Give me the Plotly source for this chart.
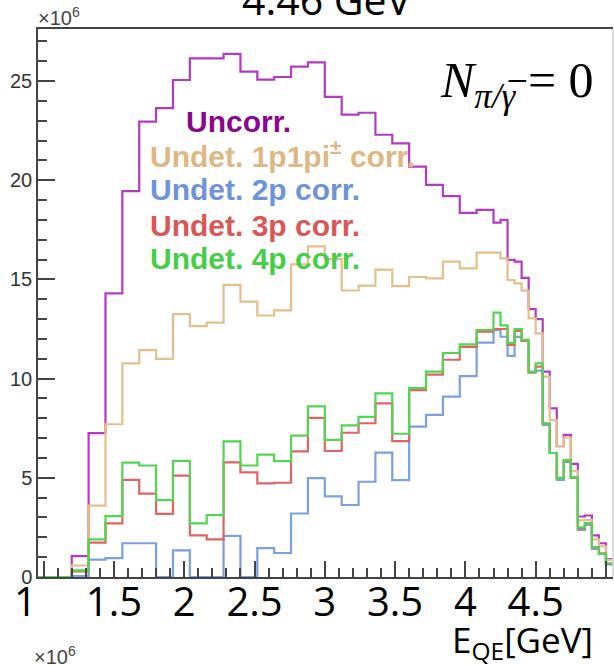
import plotly.graph_objects as go

# bin edges (GeV): 0.12 GeV bins up to 4.2, then 0.05 GeV bins
edges_wide = [round(0.96 + 0.12 * k, 2) for k in range(28)]
edges_narrow = [round(4.25 + 0.05 * k, 2) for k in range(17)]
edges = edges_wide + edges_narrow

uncorr = [0, 0, 1.05, 7.25, 14.3, 19.45, 22.95, 23.63, 25.05, 26.14, 26.14, 26.37, 25.47, 25.07,
          25.2, 25.72, 25.94, 24.2, 23.3, 23.4, 22.29, 21.86, 20.68, 19.76, 19.2, 18.35, 18.5,
          17.86, 18.0, 15.98, 15.9, 15.08, 13.5, 13.0, 10.35, 8.5, 6.6, 7.16, 5.7, 3.05, 3.1,
          2.1, 1.7, 0.9]
undet_1p1pi = [0, 0, 0.58, 3.6, 7.7, 10.77, 11.43, 10.99, 13.25, 12.64, 12.82, 14.72, 13.88, 13.18,
               13.44, 15.76, 16.66, 16.02, 14.44, 14.69, 15.49, 14.66, 15.12, 15.05, 15.9, 15.56,
               16.35, 16.35, 16.06, 14.97, 14.8, 14.43, 13.04, 12.28, 10.1, 7.91, 6.6, 7.03, 5.35,
               2.85, 2.87, 1.9, 1.55, 0.87]
undet_2p = [0, 0, 0.05, 0.88, 0.95, 1.7, 1.7, 0, 1.34, 0, 0, 2.07, 0, 1.46, 1.21, 3.2, 4.98, 4.06,
            3.63, 4.8, 6.27, 4.88, 7.58, 8.17, 9.09, 10.12, 11.81, 12.45, 12.11, 11.15, 12.1, 11.9,
            10.35, 10.4, 7.66, 6.25, 4.89, 5.8, 5.0, 2.38, 2.62, 1.42, 1.18, 0.63]
undet_3p = [0, 0, 0.28, 1.73, 2.7, 4.9, 4.2, 3.18, 5.11, 2.1, 1.9, 5.78, 5.27, 4.72, 4.75, 6.33,
            8.02, 6.35, 7.27, 7.75, 8.75, 6.85, 9.42, 10.2, 10.95, 11.6, 12.36, 12.5, 12.5, 11.7,
            12.4, 11.9, 10.3, 10.6, 7.75, 6.25, 5.0, 5.85, 5.0, 2.45, 2.7, 1.5, 1.18, 0.68]
undet_4p = [0, 0, 0.33, 1.9, 3.07, 5.76, 5.62, 3.87, 5.85, 2.7, 3.12, 6.84, 5.62, 6.17, 5.84, 7.13,
            8.6, 6.91, 7.64, 8.07, 9.25, 7.22, 9.52, 10.35, 11.29, 11.72, 12.45, 13.32, 12.68, 11.8,
            12.5, 11.95, 10.33, 10.77, 7.73, 6.25, 5.0, 5.9, 5.02, 2.5, 2.71, 1.5, 1.17, 0.68]

series = [
    ("Uncorr.", uncorr, "#B03CC0", "#8B068F"),
    ("Undet. 1p1pi<sup>±</sup> corr.", undet_1p1pi, "#E3BF8E", "#DDB784"),
    ("Undet. 2p corr.", undet_2p, "#7C9FE0", "#6E93D8"),
    ("Undet. 3p corr.", undet_3p, "#E06464", "#D95757"),
    ("Undet. 4p corr.", undet_4p, "#52D552", "#47CE47"),
]

x_major = [1, 1.5, 2, 2.5, 3, 3.5, 4, 4.5, 5]
x_major_text = ["", "1.5", "2", "2.5", "3", "3.5", "4", "4.5", ""]
y_major = [0, 5, 10, 15, 20, 25]

fig = go.Figure()
for name, vals, lc, tc in series:
    fig.add_trace(go.Scatter(x=edges, y=vals + [vals[-1]], mode="lines", line_shape="hv",
                             line=dict(color=lc, width=2.2), name=name, showlegend=False,
                             hoverinfo="skip"))

L, R, T, B = 38, 1, 29, 88
W, H = 614, 665
pw, ph = W - L - R, H - T - B


def px(xp):
    return (xp - L) / pw


def py(yp):
    return (H - B - yp) / ph


ann = []
# legend texts
leg_pos = [(238, 121.5, "center"), (148, 153.5, "left"), (148, 189, "left"),
           (148, 225, "left"), (148, 258.5, "left")]
for (name, vals, lc, tc), (lx, ly, anc) in zip(series, leg_pos):
    ann.append(dict(x=px(lx), y=py(ly), xref="paper", yref="paper", text="<b>%s</b>" % name,
                    showarrow=False, xanchor=anc, yanchor="middle",
                    font=dict(family="Liberation Sans", size=30, color=tc)))

ann += [
    dict(x=px(517), y=py(84), xref="paper", yref="paper",
         text="<i>N</i><sub><i>π/γ̅</i></sub> = 0", showarrow=False,
         xanchor="center", yanchor="middle",
         font=dict(family="Liberation Serif", size=50, color="black")),
    dict(x=px(327), y=py(29), xref="paper", yref="paper", text="4.46 GeV", showarrow=False,
         xanchor="center", yanchor="bottom", font=dict(family="Open Sans", size=41, color="black")),
    dict(x=px(36), y=py(2), xref="paper", yref="paper", text="×10<sup>6</sup>", showarrow=False,
         xanchor="left", yanchor="top", font=dict(family="Liberation Sans", size=20, color="#444")),
    dict(x=px(32), y=py(641), xref="paper", yref="paper", text="×10<sup>6</sup>", showarrow=False,
         xanchor="left", yanchor="top", font=dict(family="Liberation Sans", size=20, color="#444")),
    dict(x=px(25.5), y=py(571), xref="paper", yref="paper", text="1", showarrow=False,
         xanchor="center", yanchor="top", font=dict(family="Open Sans", size=40, color="black")),
    dict(x=px(522), y=py(641), xref="paper", yref="paper", text="E<sub>QE</sub>[GeV]",
         showarrow=False, xanchor="center", yanchor="middle",
         font=dict(family="Open Sans", size=35, color="black")),
]

fig.update_layout(
    width=W, height=H, margin=dict(l=L, r=R, t=T, b=B, pad=0),
    paper_bgcolor="white", plot_bgcolor="white",
    annotations=ann,
    shapes=[dict(type="line", xref="paper", yref="paper", x0=1, x1=1, y0=0, y1=1,
                 line=dict(color="#cfcfcf", width=1.5))],
    xaxis=dict(range=[0.96, 5.05], tickmode="array", tickvals=x_major, ticktext=x_major_text,
               ticks="inside", ticklen=16, tickwidth=1.5, tickcolor="#444",
               ticklabelstandoff=-11,
               minor=dict(tickmode="linear", tick0=1, dtick=0.1, ticks="inside", ticklen=9,
                          tickwidth=1.5, tickcolor="#444"),
               showline=True, linecolor="#444", linewidth=1.5, mirror=True,
               showgrid=False, zeroline=False,
               tickfont=dict(family="Open Sans", size=40, color="black")),
    yaxis=dict(range=[0, 27.62], tickmode="array", tickvals=y_major,
               ticks="inside", ticklen=17, tickwidth=1.5, tickcolor="#444",
               minor=dict(tickmode="linear", tick0=0, dtick=1, ticks="inside", ticklen=9,
                          tickwidth=1.5, tickcolor="#444"),
               showline=True, linecolor="#444", linewidth=1.5,
               showgrid=False, zeroline=False,
               tickfont=dict(family="Liberation Sans", size=20, color="#333")),
)

fig.write_html("out.html")
